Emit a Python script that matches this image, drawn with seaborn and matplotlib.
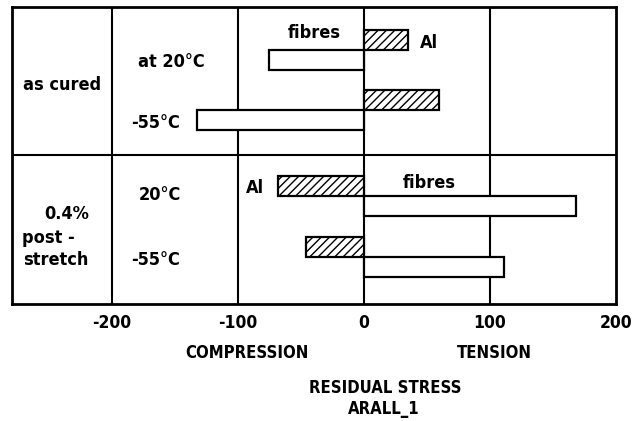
import numpy as np
import pandas as pd
import matplotlib
matplotlib.use("Agg")
import matplotlib.pyplot as plt
import seaborn as sns

# ---- data ----
conditions = ["as cured", "0.4% post-stretch"]
temperatures = ["20°C", "-55°C", "20°C", "-55°C"]
al_stress = [35, 60, -68, -46]
fibre_stress = [-75, -132, 168, 111]
xticks = [-200, -100, 0, 100, 200]

# ---- layout (vertical row centres, in pixel-like units from top of box) ----
row_y = [43, 103, 189, 250]

df = pd.DataFrame({
    "row": row_y * 2,
    "material": ["Al"] * 4 + ["fibres"] * 4,
    "stress": al_stress + fibre_stress,
})

sns.set_style("white")
plt.rcParams["font.family"] = ["DejaVu Sans"]
plt.rcParams["hatch.linewidth"] = 1.0

W, H = 644, 421
fig = plt.figure(figsize=(W / 100, H / 100), dpi=100)
ax_l, ax_r, ax_t, ax_b = 12, 616, 7, 304
ax = fig.add_axes([ax_l / W, 1 - ax_b / H, (ax_r - ax_l) / W, (ax_b - ax_t) / H])

sns.barplot(data=df, x="stress", y="row", hue="material", hue_order=["Al", "fibres"],
            orient="y", native_scale=True, width=0.667,
            palette={"Al": "white", "fibres": "white"}, saturation=1,
            edgecolor="black", linewidth=1.6, legend=False, ax=ax, zorder=3)

for p in ax.containers[0]:
    p.set_hatch("////")

ax.set_xlim(-279, 200)
ax.set_ylim(297, 0)

for xv in [-200, -100, 0, 100]:
    ax.axvline(xv, color="black", lw=1.5, zorder=1)
ax.axhline(148, color="black", lw=1.5, zorder=1)

for s in ax.spines.values():
    s.set_visible(True)
    s.set_color("black")
    s.set_linewidth(2)

ax.set_xticks(xticks)
ax.set_xticklabels([str(v) for v in xticks], fontsize=12.5, fontweight="bold",
                   fontstretch="condensed", color="black")
ax.tick_params(axis="x", length=0, pad=7, colors="black")
ax.set_yticks([])
ax.set_xlabel("")
ax.set_ylabel("")

tkw = dict(fontsize=13, fontweight="bold", fontstretch="condensed", color="black", va="center")
# bar labels
ax.text(-39, 26, "fibres", ha="center", **tkw)
ax.text(52, 36, "Al", ha="center", **tkw)
ax.text(-86, 181, "Al", ha="center", **tkw)
ax.text(52, 176, "fibres", ha="center", **tkw)
# temperature labels
ax.text(-153, 55, "at " + temperatures[0], ha="center", **tkw)
ax.text(-165, 116, temperatures[1], ha="center", **tkw)
ax.text(-162, 188, temperatures[2], ha="center", **tkw)
ax.text(-165, 253, temperatures[3], ha="center", **tkw)
# condition labels
ax.text(-239, 78, conditions[0], ha="center", **tkw)
ax.text(-236, 207, "0.4%", ha="center", **tkw)
ax.text(-271, 231, "post -", ha="left", **tkw)
ax.text(-270, 253, "stretch", ha="left", **tkw)

fkw = dict(fontsize=12, fontweight="bold", fontstretch="condensed", ha="center",
           va="center", color="black")
fig.text(247 / W, 1 - 353 / H, "COMPRESSION", **fkw)
fig.text(494 / W, 1 - 353 / H, "TENSION", **fkw)
fig.text(385 / W, 1 - 388 / H, "RESIDUAL STRESS", **fkw)
fig.text(384 / W, 1 - 409 / H, "ARALL_1", **fkw)

fig.savefig("out.png", dpi=100, facecolor="white")
